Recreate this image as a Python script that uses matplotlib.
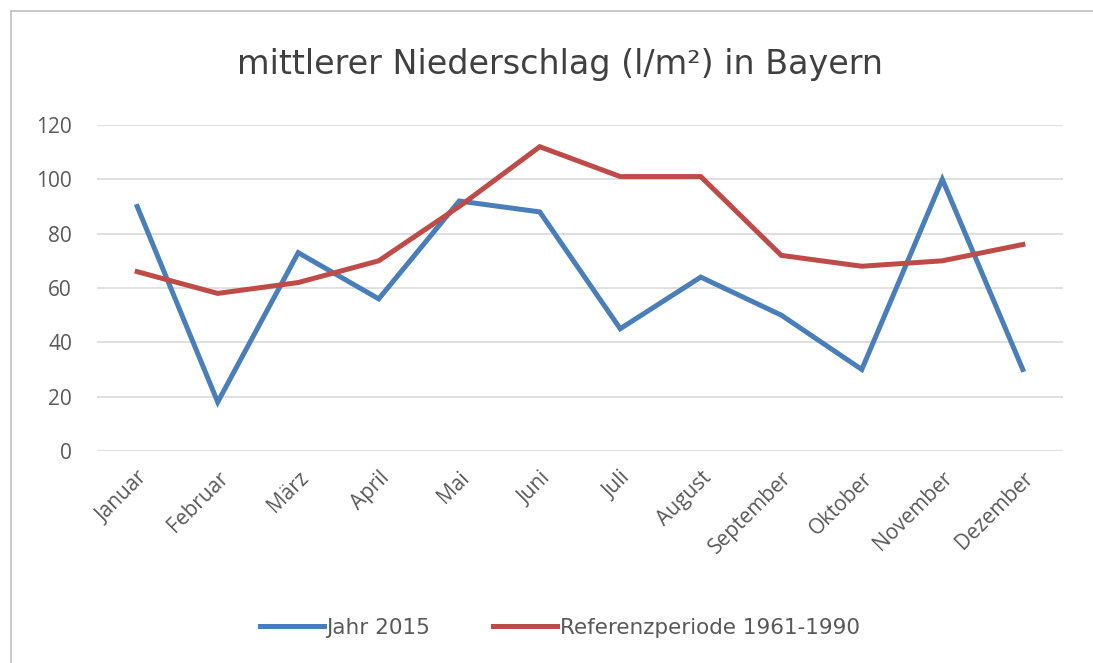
import numpy as np
import matplotlib
matplotlib.use("Agg")
import matplotlib.pyplot as plt
from matplotlib.lines import Line2D

# Daten
monate = ["Januar", "Februar", "März", "April", "Mai", "Juni", "Juli",
          "August", "September", "Oktober", "November", "Dezember"]
jahr_2015 = [90, 18, 73, 56, 92, 88, 45, 64, 50, 30, 100, 30]
referenz = [66, 58, 62, 70, 90, 112, 101, 101, 72, 68, 70, 76]
y_ticks = [0, 20, 40, 60, 80, 100, 120]

blau = "#4A7EBB"
rot = "#BE4B48"
grau = "#595959"

plt.rcParams["font.family"] = ["Open Sans", "DejaVu Sans"]

fig = plt.figure(figsize=(10.93, 6.63), dpi=100)
ax = fig.add_axes([0.0887, 0.3198, 0.8839, 0.4917])

x = np.arange(len(monate))
ax.plot(x, jahr_2015, color=blau, lw=3.6, solid_joinstyle="miter", label="Jahr 2015", zorder=3)
ax.plot(x, referenz, color=rot, lw=3.6, solid_joinstyle="miter", label="Referenzperiode 1961-1990", zorder=3)

ax.set_xlim(-0.5, len(monate) - 0.5)
ax.set_ylim(0, 120)
ax.set_yticks(y_ticks)
ax.set_xticks(x)
ax.set_xticklabels(monate, rotation=45, ha="right", rotation_mode="anchor")
ax.tick_params(axis="both", length=0, labelsize=15, colors=grau)
ax.tick_params(axis="y", pad=18)
ax.tick_params(axis="x", pad=12)
ax.grid(axis="y", color="#D9D9D9", lw=1.2)
ax.set_axisbelow(True)
for s in ax.spines.values():
    s.set_visible(False)

fig.text(0.512, 0.902, "mittlerer Niederschlag (l/m²) in Bayern", ha="center", va="center",
         fontsize=24, color="#404040", family="DejaVu Sans")

handles = [Line2D([], [], color=blau, lw=3.6), Line2D([], [], color=rot, lw=3.6)]
fig.legend(handles, ["Jahr 2015", "Referenzperiode 1961-1990"], loc="center",
           bbox_to_anchor=(0.512, 0.053), ncol=2, frameon=False, handlelength=3.0,
           handletextpad=0.1, columnspacing=2.9,
           prop={"family": "DejaVu Sans", "size": 15.5},
           labelcolor=grau)

# Rahmen des Diagramms
fig.add_artist(Line2D([0.010, 0.010], [0.0, 0.983], color="#BFBFBF", lw=1.2))
fig.add_artist(Line2D([0.010, 1.0], [0.983, 0.983], color="#BFBFBF", lw=1.2))

fig.savefig("out.png", dpi=100)
